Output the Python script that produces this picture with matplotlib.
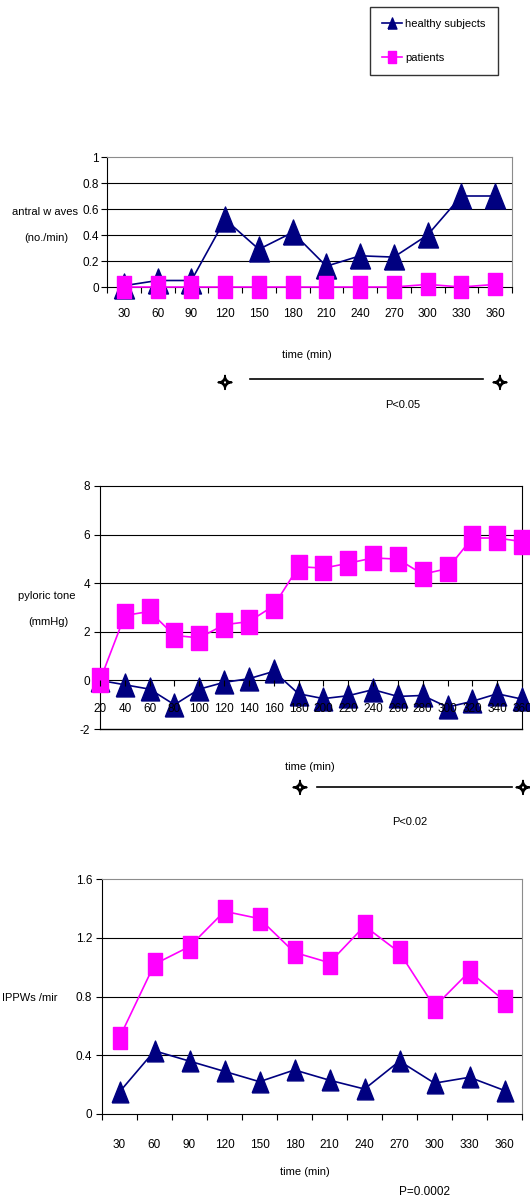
import numpy as np
import matplotlib
matplotlib.use('Agg')
import matplotlib.pyplot as plt
import matplotlib.patheffects as pe
from matplotlib.lines import Line2D

plt.rcParams['font.family'] = ['Liberation Sans', 'DejaVu Sans']

W, H = 530, 1202
FS = 8.5

# antral waves (no./min)
times_a = ['30', '60', '90', '120', '150', '180', '210', '240', '270', '300', '330', '360']
antral_healthy = [0.01, 0.05, 0.05, 0.52, 0.29, 0.42, 0.16, 0.24, 0.23, 0.40, 0.70, 0.70]
antral_patients = [0.0, 0.0, 0.0, 0.0, 0.0, 0.0, 0.0, 0.0, 0.0, 0.02, 0.0, 0.02]

# pyloric tone (mmHg)
times_p = ['20', '40', '60', '80', '100', '120', '140', '160', '180', '200', '220',
           '240', '260', '280', '300', '320', '340', '360']
tone_healthy = [0.0, -0.18, -0.36, -1.0, -0.36, -0.08, 0.07, 0.37, -0.55, -0.75, -0.63,
                -0.38, -0.66, -0.62, -1.1, -0.86, -0.55, -0.77]
tone_patients = [0.0, 2.67, 2.84, 1.85, 1.75, 2.29, 2.42, 3.07, 4.68, 4.62, 4.82,
                 5.04, 4.99, 4.37, 4.60, 5.86, 5.86, 5.71]

# IPPWs (/min)
times_i = ['30', '60', '90', '120', '150', '180', '210', '240', '270', '300', '330', '360']
ippw_healthy = [0.15, 0.43, 0.36, 0.29, 0.22, 0.30, 0.23, 0.17, 0.36, 0.21, 0.25, 0.16]
ippw_patients = [0.52, 1.02, 1.14, 1.38, 1.33, 1.10, 1.03, 1.28, 1.10, 0.73, 0.97, 0.77]

NAVY = '#000080'
MAGENTA = '#ff00ff'
GREY = '#8c8c8c'

# tall markers (the original picture is stretched vertically)
TRI = [(-0.8, -1.0), (0.8, -1.0), (0.0, 1.0), (-0.8, -1.0)]
SQ = [(-0.65, -1.0), (0.65, -1.0), (0.65, 1.0), (-0.65, 1.0), (-0.65, -1.0)]


def fx(px):
    return px / W


def fy(py):
    return 1 - py / H


def axes_at(fig, left, top, right, bottom):
    return fig.add_axes([fx(left), fy(bottom), (right - left) / W, (bottom - top) / H])


def draw_series(ax, x, y, color, marker, ms):
    ax.plot(x, y, color=color, lw=1.2, marker=marker, ms=ms, mfc=color, mec=color,
            clip_on=False, zorder=3)


def style_category_axis(ax, labels, pad):
    n = len(labels)
    ax.set_xlim(-0.5, n - 0.5)
    ax.set_xticks(np.arange(n))
    ax.set_xticklabels(labels)
    ax.set_xticks(np.arange(n + 1) - 0.5, minor=True)
    ax.tick_params(axis='x', which='major', length=0, pad=pad, labelsize=FS)
    ax.tick_params(axis='x', which='minor', length=4, direction='out', width=0.8)


def star(fig, x, y):
    fig.text(fx(x), fy(y), '\u2727', ha='center', va='center', fontsize=13,
             family='DejaVu Sans',
             path_effects=[pe.withStroke(linewidth=1.3, foreground='black')])


fig = plt.figure(figsize=(W / 100, H / 100), dpi=100)

# ---- panel 1: antral waves
ax1 = axes_at(fig, 107, 157, 512, 287)
x1 = np.arange(len(times_a))
for v in [0.2, 0.4, 0.6, 0.8]:
    ax1.axhline(v, color='black', lw=0.8, zorder=1)
draw_series(ax1, x1, antral_healthy, NAVY, TRI, 18)
draw_series(ax1, x1, antral_patients, MAGENTA, SQ, 16.5)
ax1.set_ylim(0, 1)
ax1.set_yticks([0, 0.2, 0.4, 0.6, 0.8, 1])
ax1.set_yticklabels(['0', '0.2', '0.4', '0.6', '0.8', '1'])
ax1.tick_params(axis='y', length=4, pad=2, labelsize=FS, width=0.8)
style_category_axis(ax1, times_a, 15)
ax1.spines['top'].set_color(GREY)
ax1.spines['right'].set_color(GREY)

fig.text(fx(45), fy(212), 'antral w aves', ha='center', va='center', fontsize=8)
fig.text(fx(46), fy(238), '(no./min)', ha='center', va='center', fontsize=8)
fig.text(fx(307), fy(355), 'time (min)', ha='center', va='center', fontsize=8)
star(fig, 225, 384)
star(fig, 500, 384)
fig.add_artist(Line2D([fx(250), fx(483)], [fy(379), fy(379)], color='black', lw=1.2))
fig.text(fx(403), fy(405), 'P<0.05', ha='center', va='center', fontsize=8)

# ---- panel 2: pyloric tone
ax2 = axes_at(fig, 100, 486, 522, 729)
x2 = np.arange(len(times_p))
for v in [2, 4, 6]:
    ax2.axhline(v, color='black', lw=0.8, zorder=1)
ax2.axhline(-2, color='black', lw=1, zorder=1, clip_on=False)
draw_series(ax2, x2, tone_healthy, NAVY, TRI, 16.5)
draw_series(ax2, x2, tone_patients, MAGENTA, SQ, 17)
ax2.set_xlim(0, len(times_p) - 1)
ax2.set_ylim(-2, 8)
ax2.set_yticks([-2, 0, 2, 4, 6, 8])
ax2.set_yticklabels(['-2', '0', '2', '4', '6', '8'])
ax2.tick_params(axis='y', length=4, pad=3, labelsize=FS, width=0.8)
ax2.set_xticks(x2)
ax2.set_xticklabels(times_p)
ax2.tick_params(axis='x', length=4, direction='out', pad=12, labelsize=FS, width=0.8)
ax2.spines['bottom'].set_position(('data', 0))
ax2.xaxis.set_zorder(4)

fig.text(fx(47), fy(596), 'pyloric tone', ha='center', va='center', fontsize=8)
fig.text(fx(48), fy(622), '(mmHg)', ha='center', va='center', fontsize=8)
fig.text(fx(310), fy(767), 'time (min)', ha='center', va='center', fontsize=8)
star(fig, 300, 789)
star(fig, 523, 789)
fig.add_artist(Line2D([fx(317), fx(512)], [fy(787), fy(787)], color='black', lw=1.2))
fig.text(fx(410), fy(822), 'P<0.02', ha='center', va='center', fontsize=8)

# ---- panel 3: IPPWs
ax3 = axes_at(fig, 102, 879, 522, 1114)
x3 = np.arange(len(times_i))
for v in [0.4, 0.8, 1.2]:
    ax3.axhline(v, color='black', lw=0.8, zorder=1)
draw_series(ax3, x3, ippw_healthy, NAVY, TRI, 15)
draw_series(ax3, x3, ippw_patients, MAGENTA, SQ, 15.5)
ax3.set_ylim(0, 1.6)
ax3.set_yticks([0, 0.4, 0.8, 1.2, 1.6])
ax3.set_yticklabels(['0', '0.4', '0.8', '1.2', '1.6'])
ax3.tick_params(axis='y', length=4, pad=3, labelsize=FS, width=0.8)
style_category_axis(ax3, times_i, 18)
ax3.spines['top'].set_color(GREY)
ax3.spines['right'].set_color(GREY)

fig.text(fx(2), fy(998), 'IPPWs /mir', ha='left', va='center', fontsize=8)
fig.text(fx(305), fy(1172), 'time (min)', ha='center', va='center', fontsize=8)
fig.text(fx(424), fy(1192), 'P=0.0002', ha='center', va='center', fontsize=8.5)

# ---- legend
handles = [Line2D([], [], color=NAVY, lw=1.2, marker=TRI, ms=8, mfc=NAVY, mec=NAVY),
           Line2D([], [], color=MAGENTA, lw=1.2, marker=SQ, ms=8, mfc=MAGENTA, mec=MAGENTA)]
leg = fig.legend(handles, ['healthy subjects', 'patients'], loc='upper left',
                 bbox_to_anchor=(fx(370), fy(7)), borderaxespad=0, fontsize=8,
                 frameon=True, fancybox=False, edgecolor='black', handlelength=1.8,
                 handletextpad=0.25, labelspacing=2.15, borderpad=1.1)
leg.get_frame().set_linewidth(1)

fig.savefig('out.png', dpi=100)
